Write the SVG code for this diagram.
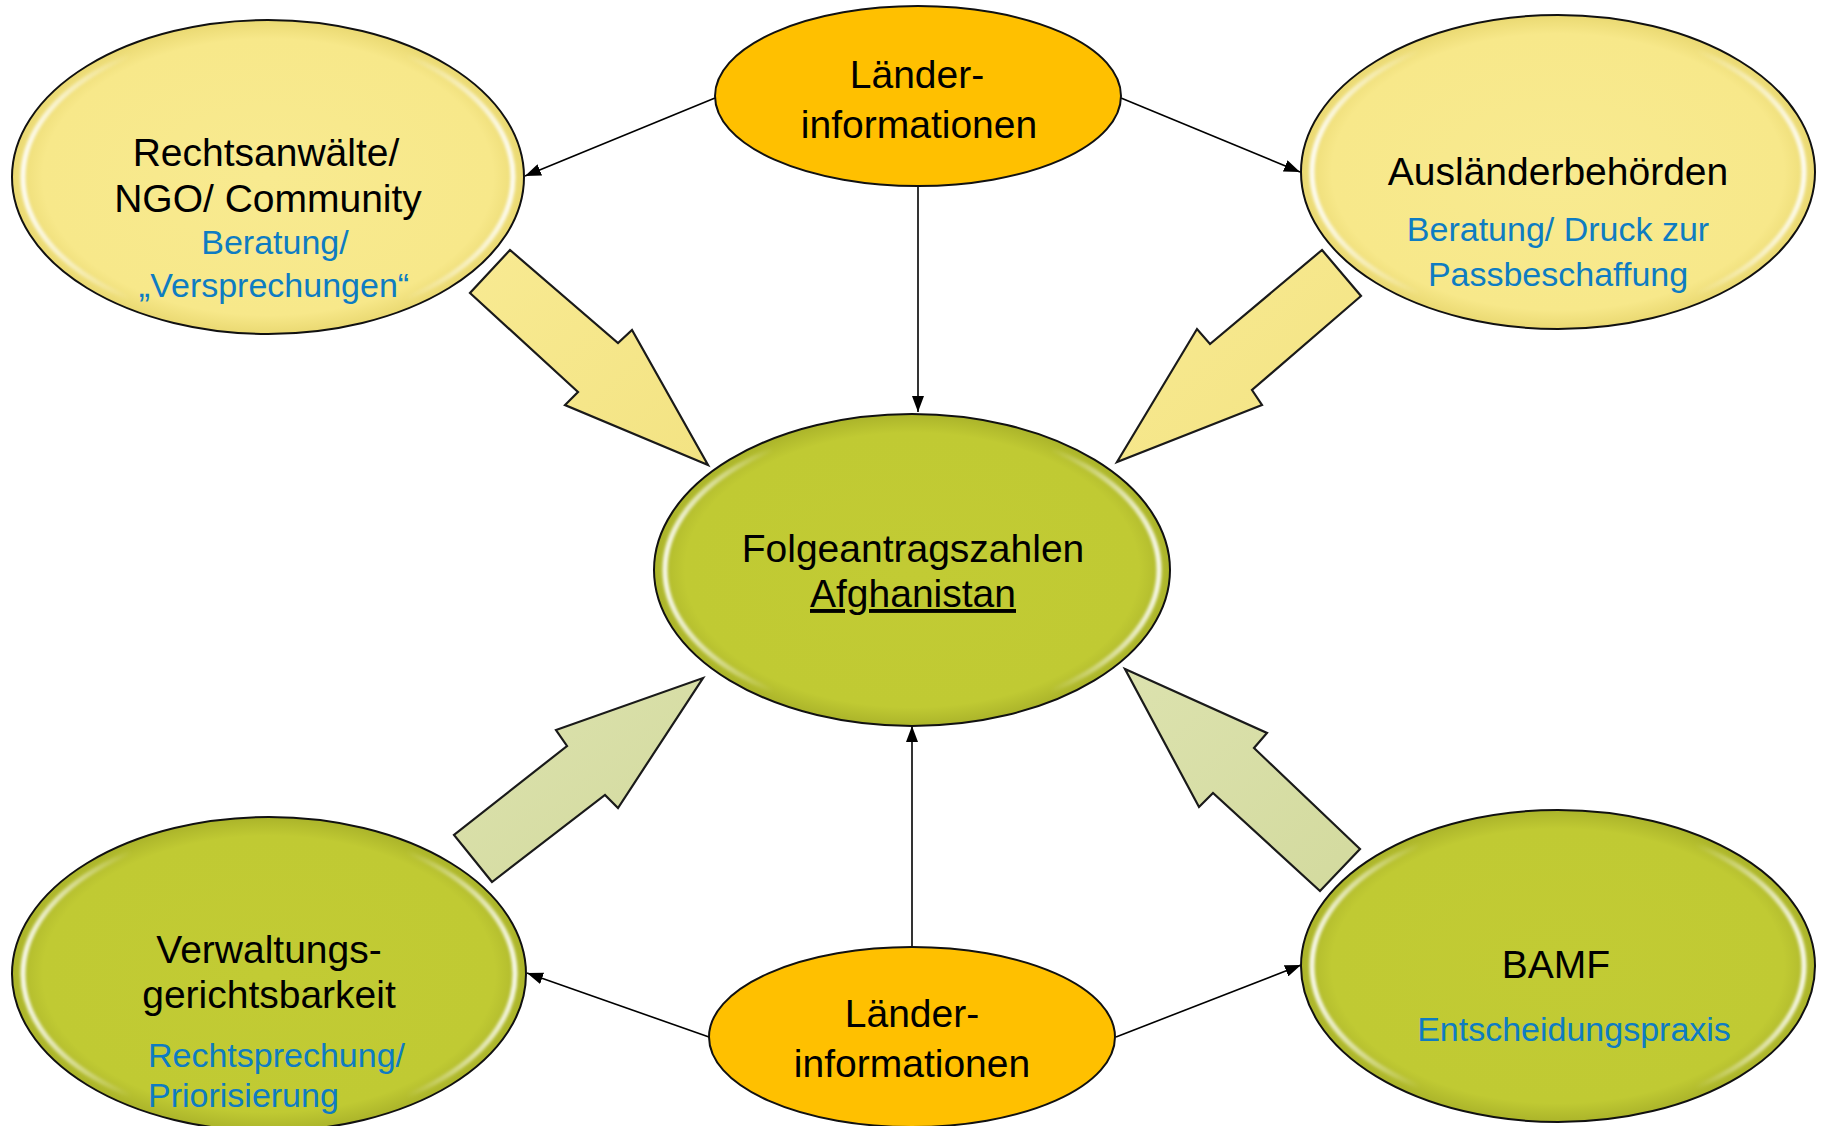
<svg xmlns="http://www.w3.org/2000/svg" width="1825" height="1126" viewBox="0 0 1825 1126">
<defs>
  <radialGradient id="gYellow" cx="50%" cy="50%" r="50%">
    <stop offset="0%" stop-color="#F8EA90"/>
    <stop offset="88%" stop-color="#F7E88A"/>
    <stop offset="100%" stop-color="#EAD972"/>
  </radialGradient>
  <radialGradient id="gGreen" cx="50%" cy="50%" r="50%">
    <stop offset="0%" stop-color="#C2CB34"/>
    <stop offset="88%" stop-color="#C0CA33"/>
    <stop offset="100%" stop-color="#ABB42A"/>
  </radialGradient>
  <linearGradient id="gGloss" x1="0" y1="0" x2="1" y2="0">
    <stop offset="0%" stop-color="#ffffff" stop-opacity="0.9"/>
    <stop offset="22%" stop-color="#ffffff" stop-opacity="0"/>
    <stop offset="78%" stop-color="#ffffff" stop-opacity="0"/>
    <stop offset="100%" stop-color="#ffffff" stop-opacity="0.9"/>
  </linearGradient>
  <linearGradient id="gArrowY" x1="0" y1="0" x2="1" y2="1">
    <stop offset="0%" stop-color="#F8EA92"/>
    <stop offset="100%" stop-color="#F3E383"/>
  </linearGradient>
  <linearGradient id="gArrowG" x1="0" y1="0" x2="1" y2="1">
    <stop offset="0%" stop-color="#DCE2AE"/>
    <stop offset="100%" stop-color="#D3DA9E"/>
  </linearGradient>
  <filter id="blur" x="-10%" y="-10%" width="120%" height="120%">
    <feGaussianBlur stdDeviation="1.8"/>
  </filter>
  <marker id="ah" viewBox="0 0 16 12" refX="16" refY="6" markerWidth="16" markerHeight="12" markerUnits="userSpaceOnUse" orient="auto">
    <path d="M0,0 L16,6 L0,12 Z" fill="#000"/>
  </marker>
  <style>
    .ell { stroke: #111; stroke-width: 2; }
    .yel { fill: url(#gYellow); }
    .grn { fill: url(#gGreen); }
    .org { fill: #FFC000; }
    .gloss { fill: none; stroke: url(#gGloss); stroke-width: 5; filter: url(#blur); }
    .conn { stroke: #000; stroke-width: 1.6; fill: none; marker-end: url(#ah); }
    .big { stroke: #1a1a1a; stroke-width: 2.2; stroke-linejoin: miter; }
    .bigY { fill: url(#gArrowY); }
    .bigG { fill: url(#gArrowG); }
    .t { font-family: "Liberation Sans", Arial, sans-serif; font-size: 39px; fill: #000; text-anchor: middle; }
    .s { font-family: "Liberation Sans", Arial, sans-serif; font-size: 34px; fill: #0E7CC2; text-anchor: middle; }
    .sl { text-anchor: start; }
  </style>
</defs>

<g id="connectors">
  <polygon class="big bigY" points="510,250 470,293 578,392 565,405 708,465 632,330 618,343"/>
  <polygon class="big bigY" points="1322,250 1361,296 1252,390 1262,405 1117,462 1197,329 1210,344"/>
  <polygon class="big bigG" points="492,882 454,835 567,746 556,730 703,678 618,808 605,795"/>
  <polygon class="big bigG" points="1125,669 1267,733 1254,748 1360,849 1320,891 1213,793 1199,807"/>
  <line class="conn" x1="715" y1="98" x2="525" y2="176"/>
  <line class="conn" x1="1121" y1="98" x2="1300" y2="172"/>
  <line class="conn" x1="918" y1="186" x2="918" y2="412"/>
  <line class="conn" x1="912" y1="947" x2="912" y2="726"/>
  <line class="conn" x1="709" y1="1037" x2="527" y2="973"/>
  <line class="conn" x1="1116" y1="1037" x2="1301" y2="965"/>
</g>

<g id="node-rechtsanwaelte">
  <ellipse class="ell yel" cx="268" cy="177" rx="256" ry="157"/>
  <ellipse class="gloss" cx="268" cy="177" rx="245" ry="147"/>
  <text class="t" x="266" y="166">Rechtsanwälte/</text>
  <text class="t" x="268" y="212">NGO/ Community</text>
  <text class="s" x="275" y="254">Beratung/</text>
  <text class="s" x="274" y="297">„Versprechungen“</text>
</g>

<g id="node-laender-top">
  <ellipse class="ell org" cx="918" cy="96" rx="203" ry="90"/>
  <text class="t" x="917" y="88">Länder-</text>
  <text class="t" x="919" y="138">informationen</text>
</g>

<g id="node-auslaenderbehoerden">
  <ellipse class="ell yel" cx="1558" cy="172" rx="257" ry="157"/>
  <ellipse class="gloss" cx="1558" cy="172" rx="246" ry="147"/>
  <text class="t" x="1558" y="185">Ausländerbehörden</text>
  <text class="s" x="1558" y="241">Beratung/ Druck zur</text>
  <text class="s" x="1558" y="286">Passbeschaffung</text>
</g>

<g id="node-folgeantrag">
  <ellipse class="ell grn" cx="912" cy="570" rx="258" ry="156"/>
  <ellipse class="gloss" cx="912" cy="570" rx="247" ry="146"/>
  <text class="t" x="913" y="562">Folgeantragszahlen</text>
  <text class="t" x="913" y="607" text-decoration="underline">Afghanistan</text>
</g>

<g id="node-verwaltung">
  <ellipse class="ell grn" cx="269" cy="974" rx="257" ry="157"/>
  <ellipse class="gloss" cx="269" cy="974" rx="246" ry="147"/>
  <text class="t" x="269" y="963">Verwaltungs-</text>
  <text class="t" x="269" y="1008">gerichtsbarkeit</text>
  <text class="s sl" x="148" y="1067">Rechtsprechung/</text>
  <text class="s sl" x="148" y="1107">Priorisierung</text>
</g>

<g id="node-laender-bottom">
  <ellipse class="ell org" cx="912" cy="1037" rx="203" ry="90"/>
  <text class="t" x="912" y="1027">Länder-</text>
  <text class="t" x="912" y="1077">informationen</text>
</g>

<g id="node-bamf">
  <ellipse class="ell grn" cx="1558" cy="966" rx="257" ry="156"/>
  <ellipse class="gloss" cx="1558" cy="966" rx="246" ry="146"/>
  <text class="t" x="1556" y="978">BAMF</text>
  <text class="s" x="1574" y="1041">Entscheidungspraxis</text>
</g>
</svg>
